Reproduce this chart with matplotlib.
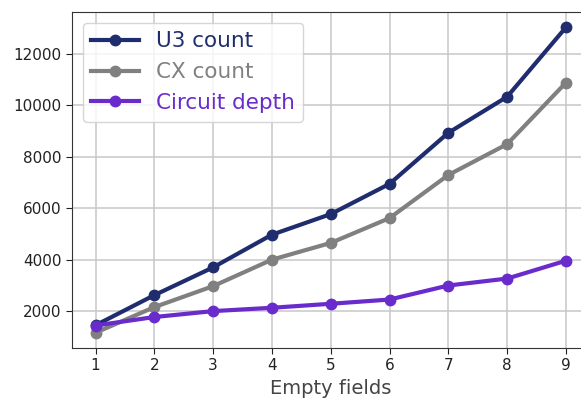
import matplotlib
matplotlib.use("Agg")
import matplotlib.pyplot as plt

x = [1, 2, 3, 4, 5, 6, 7, 8, 9]
u3_count = [1450, 2620, 3700, 4970, 5770, 6945, 8930, 10330, 13030]
cx_count = [1160, 2155, 2970, 4000, 4650, 5615, 7290, 8490, 10880]
circuit_depth = [1440, 1770, 2000, 2130, 2285, 2450, 2995, 3265, 3960]
labels = ["U3 count", "CX count", "Circuit depth"]
colors = ["#1f2d6e", "#808080", "#6a2bcc"]

fig = plt.figure(figsize=(5.81, 4.01), dpi=100)
ax = fig.add_axes([72/581, 1-348/401, (589.5-72)/581, (348-12)/401])

for ys, lab, c in zip([u3_count, cx_count, circuit_depth], labels, colors):
    ax.plot(x, ys, color=c, lw=3, marker="o", ms=7.5, label=lab)

ax.set_xticks(x)
ax.set_yticks([2000, 4000, 6000, 8000, 10000, 12000])
ax.grid(True, color="#c8c8c8", lw=1.1)
ax.set_axisbelow(True)
ax.tick_params(labelsize=11, colors="#222222", length=4)
for s in ax.spines.values():
    s.set_color("#333333")
ax.set_xlabel("Empty fields", fontsize=14, color="#444444", labelpad=4)
leg = ax.legend(loc="upper left", fontsize=15.5, labelcolor="linecolor",
                handlelength=2.2, borderaxespad=0.5, framealpha=0.8)
fig.savefig("out.png", dpi=100)
